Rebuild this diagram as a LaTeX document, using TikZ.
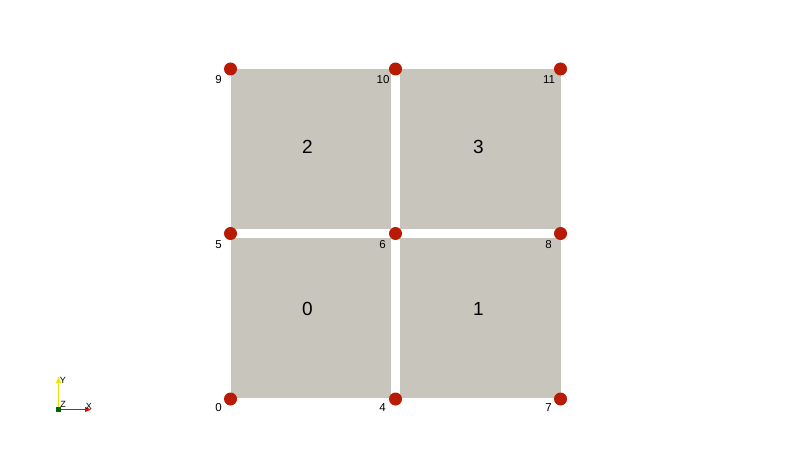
\documentclass[tikz,border=0pt]{standalone}
\usepackage{fontspec}
\setmainfont{Liberation Sans}
\usetikzlibrary{arrows.meta}
\definecolor{cellgray}{RGB}{200,197,189}
\definecolor{ptred}{RGB}{184,26,4}
\definecolor{axyellow}{RGB}{230,230,0}
\definecolor{axgreen}{RGB}{0,100,0}
\tikzset{
  cell/.style={fill=cellgray, draw=none},
  pt/.style={circle, fill=ptred, draw=none, minimum size=13pt, inner sep=0pt},
  plabel/.style={font=\fontsize{11.5}{11.5}\selectfont, inner sep=0pt},
  clabel/.style={font=\fontsize{19}{19}\selectfont, inner sep=0pt},
  axlabel/.style={font=\fontsize{9}{9}\selectfont, inner sep=0pt}
}
\begin{document}
\begin{tikzpicture}[x=1pt,y=-1pt]
\useasboundingbox[fill=white] (0,0) rectangle (792,468);
% cells
\fill[cell] (231,238) rectangle (391,398);
\fill[cell] (400,238) rectangle (561,398);
\fill[cell] (231,69) rectangle (391,229);
\fill[cell] (400,69) rectangle (561,229);
% cell labels
\node[clabel] (c0) at (307.5,308.5) {0};
\node[clabel] (c1) at (478.5,308.5) {1};
\node[clabel] (c2) at (307.5,146.5) {2};
\node[clabel] (c3) at (478.5,146.5) {3};
% points
\node[pt] (p0) at (230.5,399) {};
\node[pt] (p4) at (395.5,399) {};
\node[pt] (p7) at (560.5,399) {};
\node[pt] (p5) at (230.5,233.5) {};
\node[pt] (p6) at (395.5,233.5) {};
\node[pt] (p8) at (560.5,233.5) {};
\node[pt] (p9) at (230.5,69) {};
\node[pt] (p10) at (395.5,69) {};
\node[pt] (p11) at (560.5,69) {};
% point labels
\node[plabel] (l0) at (218.5,408) {0};
\node[plabel] (l4) at (382.5,408) {4};
\node[plabel] (l7) at (548.5,408) {7};
\node[plabel] (l5) at (218.5,245) {5};
\node[plabel] (l6) at (382.5,245) {6};
\node[plabel] (l8) at (548.5,245) {8};
\node[plabel] (l9) at (218.5,80) {9};
\node[plabel] (l10) at (383,80) {10};
\node[plabel] (l11) at (549,80) {11};
% axes icon
\coordinate (o) at (58.5,409.5);
\coordinate (ytip) at (58.5,377);
\coordinate (xtip) at (91,409.5);
\draw[axyellow, line width=1.2pt, -{Triangle[length=6pt,width=5pt]}] (o) -- (ytip);
\draw[red, line width=1.2pt, -{Triangle[length=6pt,width=5pt]}] (o) -- (xtip);
\fill[axgreen] (56,407) rectangle (61,412);
\node[axlabel] (ly) at (63,380) {Y};
\node[axlabel] (lz) at (63,404) {Z};
\node[axlabel] (lx) at (89,406) {X};
\end{tikzpicture}
\end{document}
